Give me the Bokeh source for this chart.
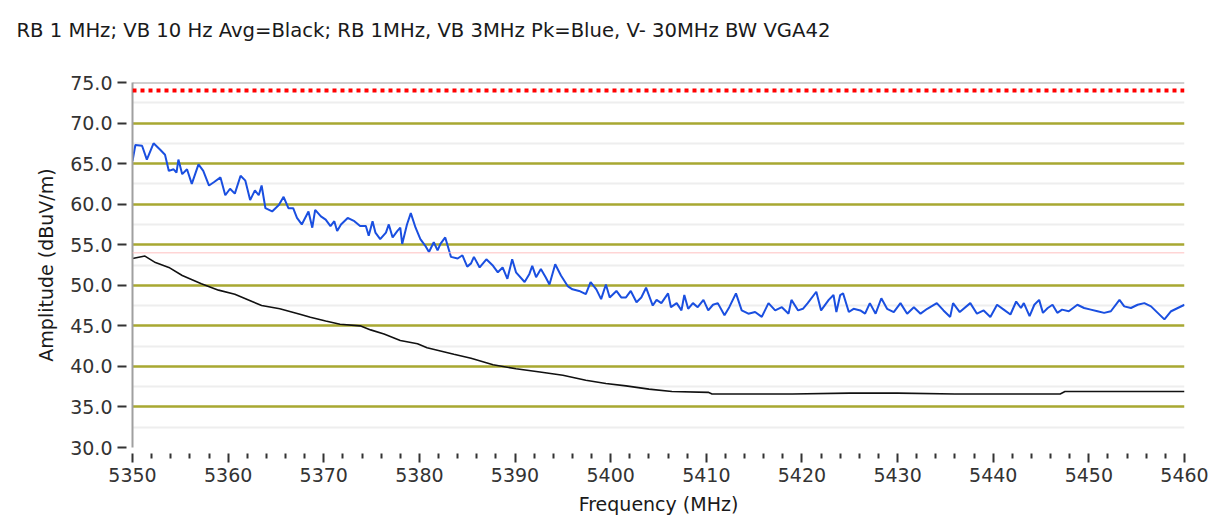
from bokeh.plotting import figure
from bokeh.models import (Range1d, FixedTicker, PrintfTickFormatter, Span, Title)
from bokeh.embed import file_html
from bokeh.resources import INLINE

# ---------------- data ----------------
title_text = "RB 1 MHz; VB 10 Hz Avg=Black; RB 1MHz, VB 3MHz Pk=Blue, V- 30MHz BW VGA42"
x_label = "Frequency (MHz)"
y_label = "Amplitude (dBuV/m)"

x_ticks = [5350, 5360, 5370, 5380, 5390, 5400, 5410, 5420, 5430, 5440, 5450, 5460]
y_ticks = [30.0, 35.0, 40.0, 45.0, 50.0, 55.0, 60.0, 65.0, 70.0, 75.0]

peak_limit = 74.0      # red dotted line
avg_limit = 54.0       # faint pink line

# Peak trace (blue)
blue_freq = [5350.0, 5350.3, 5351.0, 5351.5, 5352.2, 5352.9, 5353.4, 5353.8, 5354.3, 5354.6,
             5354.8, 5355.2, 5355.7, 5356.2, 5356.9, 5357.4, 5358.0, 5358.5, 5359.2, 5359.7,
             5360.2, 5360.7, 5361.3, 5361.8, 5362.3, 5362.8, 5363.2, 5363.5, 5363.9, 5364.6,
             5365.3, 5365.8, 5366.3, 5366.8, 5367.2, 5367.7, 5368.4, 5368.8, 5369.1, 5369.7,
             5370.2, 5370.7, 5371.1, 5371.4, 5371.8, 5372.5, 5373.2, 5373.8, 5374.4, 5374.7,
             5375.1, 5375.4, 5375.9, 5376.5, 5376.8, 5377.2, 5377.7, 5378.0, 5378.2, 5378.7,
             5379.1, 5379.6, 5380.1, 5380.6, 5381.0, 5381.5, 5381.9, 5382.2, 5382.7, 5383.3,
             5384.0, 5384.5, 5385.0, 5385.4, 5385.7, 5386.3, 5387.0, 5387.7, 5388.2, 5388.7,
             5389.2, 5389.7, 5390.1, 5391.0, 5391.5, 5391.8, 5392.2, 5392.7, 5393.2, 5393.6,
             5394.2, 5394.8, 5395.5, 5396.0, 5396.7, 5397.4, 5397.9, 5398.5, 5399.0, 5399.5,
             5399.9, 5400.6, 5401.1, 5401.6, 5402.1, 5402.7, 5403.2, 5403.7, 5404.4, 5404.8,
             5405.3, 5406.0, 5406.3, 5406.9, 5407.4, 5407.7, 5408.1, 5408.6, 5409.1, 5409.7,
             5410.2, 5410.7, 5411.2, 5411.9, 5412.4, 5413.1, 5413.7, 5414.4, 5415.1, 5415.8,
             5416.5, 5417.2, 5417.9, 5418.6, 5418.9, 5419.6, 5420.1, 5420.6, 5421.5, 5422.0,
             5422.8, 5423.3, 5423.6, 5424.0, 5424.3, 5424.9, 5425.4, 5426.1, 5426.6, 5427.1,
             5427.7, 5428.3, 5428.9, 5429.6, 5430.3, 5431.0, 5431.7, 5432.4, 5433.1, 5434.1,
             5434.8, 5435.5, 5435.8, 5436.5, 5437.6, 5438.3, 5439.0, 5439.7, 5440.4, 5441.1,
             5441.8, 5442.4, 5442.9, 5443.2, 5443.8, 5444.3, 5444.8, 5445.2, 5445.7, 5446.2,
             5446.7, 5447.2, 5447.9, 5448.8, 5449.5, 5450.2, 5450.9, 5451.6, 5452.3, 5453.2,
             5453.7, 5454.4, 5455.1, 5455.8, 5456.5, 5457.2, 5457.9, 5458.6, 5459.3, 5460.0]
blue_amp = [65.3, 67.3, 67.2, 65.5, 67.5, 66.7, 66.1, 64.1, 64.3, 63.9,
            65.5, 63.7, 64.3, 62.5, 64.9, 64.1, 62.3, 62.7, 63.3, 61.1,
            61.9, 61.3, 63.5, 62.9, 60.5, 61.7, 61.1, 62.3, 59.5, 59.1,
            59.9, 60.9, 59.5, 59.5, 58.3, 57.5, 59.1, 57.1, 59.3, 58.5,
            58.1, 57.3, 57.9, 56.7, 57.5, 58.3, 57.9, 57.3, 57.3, 56.1,
            57.9, 56.5, 55.7, 56.5, 57.5, 55.9, 56.7, 57.1, 55.1, 57.5,
            58.9, 57.1, 55.7, 54.9, 54.1, 55.3, 54.3, 55.1, 55.9, 53.5,
            53.3, 53.7, 52.3, 52.7, 53.5, 52.2, 53.2, 52.4, 51.6, 52.2,
            50.8, 53.2, 51.6, 50.4, 51.4, 52.4, 51.0, 52.0, 51.0, 50.1,
            52.6, 51.2, 49.9, 49.5, 49.3, 48.9, 50.4, 49.5, 48.3, 50.1,
            48.5, 49.3, 48.5, 48.5, 49.3, 47.9, 48.5, 49.7, 47.5, 48.2,
            47.8, 49.0, 47.3, 47.8, 46.9, 48.8, 47.1, 47.8, 47.3, 48.2,
            46.9, 47.6, 47.8, 46.3, 47.3, 49.0, 46.9, 46.5, 46.7, 46.1,
            47.8, 46.9, 47.3, 46.5, 48.2, 46.9, 47.1, 47.8, 49.2, 46.9,
            48.2, 48.8, 46.7, 48.8, 49.0, 46.7, 47.1, 46.9, 46.5, 47.8,
            46.5, 48.4, 47.1, 46.7, 47.8, 46.5, 47.3, 46.5, 47.1, 47.8,
            46.9, 46.1, 47.8, 46.7, 47.8, 46.5, 46.9, 46.1, 47.6, 47.0,
            46.4, 48.0, 47.2, 47.8, 46.2, 47.6, 48.2, 46.6, 47.2, 47.6,
            46.6, 47.0, 46.8, 47.6, 47.2, 47.0, 46.8, 46.6, 46.8, 48.2,
            47.4, 47.2, 47.6, 47.8, 47.4, 46.6, 45.8, 46.8, 47.2, 47.6]

# Average trace (black)
black_freq = [5350.0, 5351.3, 5352.4, 5353.8, 5355.2, 5357.2, 5359.0, 5360.7, 5362.5, 5363.5,
              5365.4, 5367.6, 5368.6, 5370.2, 5371.7, 5373.8, 5374.9, 5376.3, 5378.0, 5379.8,
              5380.8, 5382.2, 5383.6, 5385.4, 5387.7, 5390.1, 5392.6, 5395.0, 5397.4, 5399.5,
              5401.6, 5404.0, 5406.4, 5410.2, 5410.6, 5414.0, 5419.0, 5425.0, 5430.0, 5436.0,
              5440.0, 5447.0, 5447.5, 5460.0]
black_amp = [53.3, 53.6, 52.8, 52.2, 51.2, 50.2, 49.4, 48.9, 48.0, 47.5,
             47.1, 46.4, 46.05, 45.6, 45.2, 45.0, 44.5, 44.0, 43.2, 42.8,
             42.3, 41.9, 41.5, 41.0, 40.2, 39.7, 39.3, 38.9, 38.3, 37.9,
             37.6, 37.2, 36.9, 36.8, 36.6, 36.6, 36.6, 36.7, 36.7, 36.6,
             36.6, 36.6, 36.9, 36.9]

# ---------------- figure ----------------
FONT = "DejaVu Sans"

p = figure(width=1212, height=525, output_backend="svg", toolbar_location=None,
           x_range=Range1d(5350, 5460), y_range=Range1d(30, 75),
           min_border_left=132, min_border_right=28, min_border_top=82, min_border_bottom=78)
p.title = None
p.background_fill_color = "white"
p.border_fill_color = "white"
p.outline_line_color = None

# blank spacer between the frame and the title, then the title itself
p.add_layout(Title(text=" ", text_font=FONT, text_font_size="20px", standoff=15), "above")
p.add_layout(Title(text=title_text, align="left", offset=-116, standoff=0,
                   text_font=FONT, text_font_size="19.6px", text_font_style="normal",
                   text_color="#1a1a1a"), "above")

minor_y = [32.5, 37.5, 42.5, 47.5, 52.5, 57.5, 62.5, 67.5, 72.5]
minor_x = [f for f in range(5350, 5461, 2) if f % 10 != 0]

# Y axis
yax = p.yaxis[0]
yax.ticker = FixedTicker(ticks=y_ticks, minor_ticks=minor_y)
yax.formatter = PrintfTickFormatter(format="%.1f")
yax.axis_label = y_label
yax.axis_label_text_font = FONT
yax.axis_label_text_font_size = "19px"
yax.axis_label_text_font_style = "normal"
yax.axis_label_text_color = "#1a1a1a"
yax.axis_label_standoff = 10
yax.major_label_text_font = FONT
yax.major_label_text_font_size = "19px"
yax.major_label_text_color = "#333333"
yax.major_label_standoff = 5
yax.axis_line_color = "#a0a0a0"
yax.axis_line_width = 2
yax.major_tick_line_color = "#333333"
yax.major_tick_line_width = 2
yax.major_tick_in = -6
yax.major_tick_out = 15
yax.minor_tick_line_color = None

# X axis
xax = p.xaxis[0]
xax.ticker = FixedTicker(ticks=x_ticks, minor_ticks=minor_x)
xax.axis_label = x_label
xax.axis_label_text_font = FONT
xax.axis_label_text_font_size = "19px"
xax.axis_label_text_font_style = "normal"
xax.axis_label_text_color = "#1a1a1a"
xax.axis_label_standoff = 8
xax.major_label_text_font = FONT
xax.major_label_text_font_size = "19px"
xax.major_label_text_color = "#333333"
xax.major_label_standoff = 5
xax.axis_line_color = None
xax.major_tick_line_color = "#333333"
xax.major_tick_line_width = 2
xax.major_tick_in = -6
xax.major_tick_out = 15
xax.minor_tick_line_color = "#333333"
xax.minor_tick_line_width = 2
xax.minor_tick_in = -6
xax.minor_tick_out = 11

# Grids
p.xgrid.grid_line_color = None
p.ygrid.grid_line_color = "#a8a832"
p.ygrid.grid_line_width = 2.5
p.ygrid.minor_grid_line_color = "#eeeeee"
p.ygrid.minor_grid_line_width = 2

# top frame line
p.add_layout(Span(location=75, dimension="width", line_color="#a0a0a0", line_width=2))

# limit lines
p.add_layout(Span(location=avg_limit, dimension="width", line_color="#ffc0c0", line_width=1))
p.add_layout(Span(location=peak_limit, dimension="width", line_color="#ff0000",
                  line_width=4, line_dash="4 4"))

# traces
p.line(black_freq, black_amp, line_color="#111111", line_width=1.6)
p.line(blue_freq, blue_amp, line_color="#1a4fe0", line_width=2)

open("out.html", "w").write(file_html(p, INLINE))
